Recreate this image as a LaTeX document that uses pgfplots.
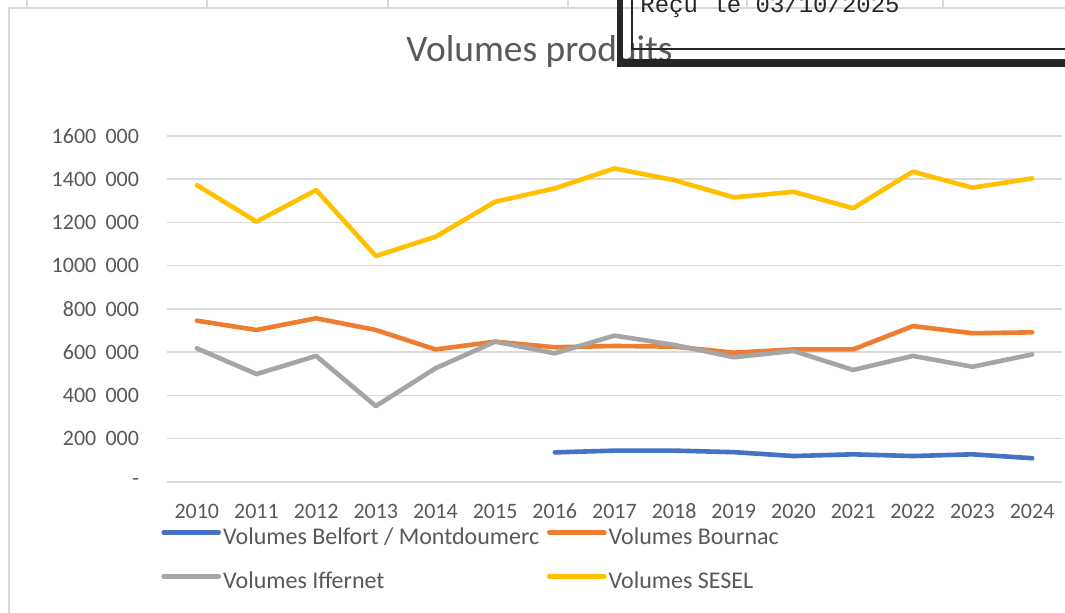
\documentclass[border=0pt]{standalone}
\usepackage{pgfplots}
\pgfplotsset{compat=1.18}
\usepackage{fontspec}
\setmainfont{Carlito}
\newfontfamily\stampfont{Liberation Mono}

\definecolor{cblue}{HTML}{4472C4}
\definecolor{corange}{HTML}{ED7D31}
\definecolor{cgray}{HTML}{A5A5A5}
\definecolor{cyellow}{HTML}{FFC000}
\definecolor{ctext}{HTML}{595959}
\definecolor{cgrid}{HTML}{D9D9D9}
\newcommand{\gap}{\hspace{0.42em}}

\begin{document}
\begin{tikzpicture}
\path[use as bounding box, fill=white] (0pt,0pt) rectangle (532.5pt,-306.5pt);
\begin{scope}[x=0.5pt, y=-0.5pt]
% sheet cells behind the chart
\foreach \cx in {27,207,388,568,747,943}
  \draw[cgrid, line width=1pt] (\cx,0) -- (\cx,8);
\draw[cgrid, line width=1.2pt] (9,613) -- (9,8) -- (1065,8);
\end{scope}

\begin{axis}[
    at={(83.5pt,-241pt)}, anchor=south west,
    scale only axis,
    width=447.5pt, height=173pt,
    xmin=2009.5, xmax=2024.5,
    ymin=0, ymax=1600000,
    axis line style={draw=none},
    major tick length=0pt,
    xtick={2010,...,2024},
    ytick={0,200000,...,1600000},
    yticklabels={-, 200\gap000, 400\gap000, 600\gap000, 800\gap000,
                 1000\gap000, 1200\gap000, 1400\gap000, 1600\gap000},
    scaled y ticks=false,
    /pgf/number format/1000 sep={},
    /pgf/number format/assume math mode=true,
    ymajorgrids,
    grid style={cgrid, line width=0.75pt},
    tick label style={font=\fontsize{11}{13}\selectfont, text=ctext, inner sep=0pt},
    xticklabel style={anchor=base, yshift=-18.5pt},
    yticklabel style={anchor=east, xshift=-13.8pt},
    legend columns=2,
    legend cell align=left,
    legend style={draw=none, fill=none, inner sep=0pt,
                  at={(-0.0067,-0.13)}, anchor=north west,
                  column sep=0pt, row sep=11pt,
                  font=\fontsize{12}{14}\selectfont, text=ctext,
                  nodes={inner xsep=1pt, inner ysep=0pt, text height=8.5pt,
                         text depth=2.5pt}},
    legend image code/.code={\draw[#1] (0pt,3pt) -- (27.5pt,3pt);},
    every axis plot/.append style={line width=2.3pt, line join=round, line cap=round},
]
\addplot[cblue] coordinates {
    (2016,137000) (2017,145000) (2018,145000) (2019,138000) (2020,120000)
    (2021,128000) (2022,120000) (2023,128000) (2024,110000)
};
\addlegendentry{\makebox[161pt][l]{Volumes Belfort / Montdoumerc}}
\addplot[corange] coordinates {
    (2010,746000) (2011,703000) (2012,757000) (2013,703000) (2014,613000)
    (2015,649000) (2016,623000) (2017,629000) (2018,626000) (2019,598000)
    (2020,613000) (2021,613000) (2022,721000) (2023,688000) (2024,692000)
};
\addlegendentry{Volumes Bournac}
\addplot[cgray] coordinates {
    (2010,618000) (2011,499000) (2012,583000) (2013,351000) (2014,526000)
    (2015,649000) (2016,595000) (2017,677000) (2018,634000) (2019,577000)
    (2020,606000) (2021,518000) (2022,583000) (2023,533000) (2024,590000)
};
\addlegendentry{\makebox[161pt][l]{Volumes Iffernet}}
\addplot[cyellow] coordinates {
    (2010,1373000) (2011,1204000) (2012,1350000) (2013,1045000) (2014,1134000)
    (2015,1296000) (2016,1358000) (2017,1450000) (2018,1396000) (2019,1316000)
    (2020,1342000) (2021,1266000) (2022,1435000) (2023,1361000) (2024,1404000)
};
\addlegendentry{Volumes SESEL}
\end{axis}

\begin{scope}[x=0.5pt, y=-0.5pt]
\node[anchor=base, inner sep=0pt, text=ctext, font=\fontsize{18.7}{22}\selectfont]
  at (539.5,62) {Volumes produits};
% received stamp laid over the top right corner
\node[anchor=base west, inner sep=0pt, text=black!85,
      font=\stampfont\fontsize{12}{14}\selectfont] at (640,13) {Reçu le 03/10/2025};
\fill[black!85] (617,0) rectangle (623,67);
\fill[black!85] (617,59) rectangle (1065,67);
\draw[black!85, line width=1pt] (631.5,0) -- (631.5,49.5) -- (1065,49.5);
\end{scope}
\end{tikzpicture}
\end{document}
